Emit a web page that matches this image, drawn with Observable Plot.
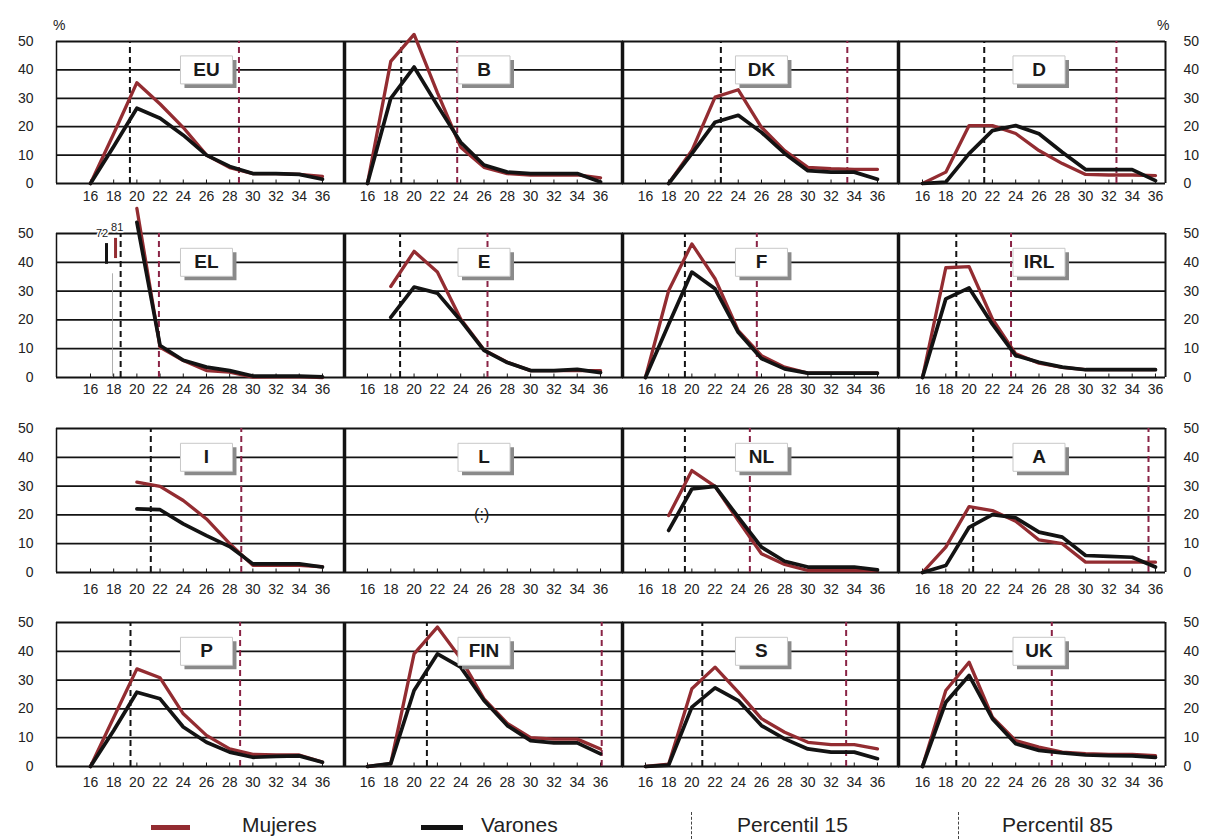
<!DOCTYPE html>
<html><head><meta charset="utf-8">
<script src="https://cdn.jsdelivr.net/npm/d3@7"></script>
<script src="https://cdn.jsdelivr.net/npm/@observablehq/plot@0.6"></script>
<style>
body{margin:0;background:#fff;font-family:"Liberation Sans",Arial,sans-serif;color:#222;}
#root{position:relative;width:1216px;height:839px;overflow:hidden;background:#fff;}
.panel{position:absolute;}
.panel svg{max-width:none !important;}
.txt{position:absolute;white-space:nowrap;font-family:"Liberation Sans",Arial,sans-serif;color:#222;}
</style></head><body><div id="root"></div>
<script>
// ---- data ----
const ages = [16,18,20,22,24,26,28,30,32,34,36];
const countries = ["EU","B","DK","D","EL","E","F","IRL","I","L","NL","A","P","FIN","S","UK"];
const mujEU  = [0,17.5,35.5,28,19.7,10,5.6,3.5,3.5,3.2,2.5];
const varEU  = [0,13,26.5,23,17,10,6,3.5,3.5,3.2,1.5];
const mujB   = [0,43,52.5,32,12.8,5.7,3.5,3,3,3,2];
const varB   = [0,30,41,27.5,14.5,6.5,4,3.5,3.5,3.5,0.5];
const mujDK  = [null,0,11.6,30.4,33,19.8,11.6,5.7,5.2,5,5];
const varDK  = [null,0,10.5,21.6,24,18,10.6,4.5,4,4,1.5];
const mujD   = [0,4,20.4,20.4,17.6,11.6,7,3.2,3,3,2.8];
const varD   = [0,0.5,10.5,18.6,20.4,17.5,11,4.9,4.9,4.9,1];
const mujEL  = [null,null,58.7,10.5,5.9,2.4,1.9,0.1,0.2,0.3,0];
const varEL  = [null,null,53.9,11.1,6,3.6,2.4,0.5,0.5,0.5,0.2];
const mujE   = [null,31.6,43.8,36.6,20.3,9.6,5.3,2.4,2.4,2.4,2.4];
const varE   = [null,20.9,31.4,29.3,19.8,9.4,5.2,2.4,2.4,2.8,1.7];
const mujF   = [0,30.2,46.4,34.3,16.3,7.6,3.6,1.5,1.5,1.5,1.5];
const varF   = [0,18.5,36.6,30.8,15.7,6.6,3,1.5,1.5,1.5,1.5];
const mujIRL = [0,38.1,38.5,20.3,8.2,5,3.5,2.7,2.7,2.7,2.7];
const varIRL = [0,27.3,31.1,18.5,7.6,5.3,3.6,2.7,2.7,2.7,2.7];
const mujI   = [null,null,31.4,29.9,25,18.6,10,2.5,2.5,2.5,2];
const varI   = [null,null,22.1,21.8,16.9,12.8,9,3,3,3,1.9];
const mujL   = [null,null,null,null,null,null,null,null,null,null,null];
const varL   = [null,null,null,null,null,null,null,null,null,null,null];
const mujNL  = [null,19.8,35.4,29.9,18,6.5,2.8,0.7,0.7,0.7,0.7];
const varNL  = [null,14.6,29,29.9,19.2,8.8,3.9,1.9,1.9,1.9,0.9];
const mujA   = [0,8.8,22.9,21.5,17.8,11.3,10,3.6,3.6,3.6,3.6];
const varA   = [0,2.4,15.7,20.1,19,14,12.3,5.9,5.6,5.3,1.9];
const mujP   = [0,17,33.9,30.8,18.3,10.8,6.1,4.2,4,4,1.5];
const varP   = [0,12.5,25.8,23.5,13.7,8.4,5,3.2,3.5,3.7,1.5];
const mujFIN = [0,1,39.1,48.4,37.5,23.5,15,10,9.5,9.5,6.1];
const varFIN = [0,1,26.4,39.1,34.5,22.9,14.2,9,8.2,8.2,4.4];
const mujS   = [0,0.8,27,34.5,25.8,16.6,11.9,8.4,7.6,7.6,6.1];
const varS   = [0,0.5,20.6,27.3,22.9,14.2,9.6,6.1,5,5,2.7];
const mujUK  = [0,26.4,36.2,17.1,9,6.7,5,4.5,4.2,4.2,3.8];
const varUK  = [0,22.3,31.6,16.6,7.9,5.6,4.7,4,3.8,3.7,3.2];
const p15 = [19.4,18.9,22.5,21.3, 18.6,18.8,19.4,18.9, 21.2,null,19.4,20.35, 19.45,21.1,20.9,18.9];
const p85 = [28.8,23.7,33.4,32.65, 21.9,26.3,25.6,23.6, 29.0,null,25.0,35.4, 28.9,36.1,33.3,27.1];
const yTicks = [0,10,20,30,40,50];
const elOffscaleSeries = ["Varones","Mujeres"];
const elOffscaleValues = [72,81];
const noData = "(:)";
const legendLabels = ["Mujeres","Varones","Percentil 15","Percentil 85"];

const mujAll = [mujEU,mujB,mujDK,mujD,mujEL,mujE,mujF,mujIRL,mujI,mujL,mujNL,mujA,mujP,mujFIN,mujS,mujUK];
const varAll = [varEU,varB,varDK,varD,varEL,varE,varF,varIRL,varI,varL,varNL,varA,varP,varFIN,varS,varUK];

// ---- layout ----
const root = document.getElementById("root");
const colLeft = [56,344,622,898], colRight = [344,623,899,1165];
const colDomain = [[13.07,37.9],[14.03,37.97],[14.02,37.9],[13.94,36.86]];
const rowTop = [41,233,428,622], rowBottom = [183,377,572,766];
const rowPad = [8,7,12,11];
const RED = "#932c31", P85C = "#8a2446", INK = "#131313";
const FONT = "Liberation Sans, Arial, sans-serif";
const boxSymbol = {draw(ctx){ctx.moveTo(-26,-14);ctx.lineTo(26,-14);ctx.lineTo(26,14);ctx.lineTo(-26,14);ctx.closePath();}};
const tickSymbol = {draw(ctx){ctx.moveTo(0,0);ctx.lineTo(0,-4);}};

countries.forEach((country, i) => {
  const r = Math.floor(i/4), c = i%4;
  const mL = c===0 ? 60 : 12, mR = c===3 ? 50 : 12, mT = 34, mB = 34;
  const w = colRight[c]-colLeft[c], h = rowBottom[r]-rowTop[r];
  const rows = ages.map((a,k)=>({age:a, Mujeres: mujAll[i][k], Varones: varAll[i][k]}));
  const dom = colDomain[c];
  const marks = [
    Plot.ruleY([10,20,30,40,50], {stroke: INK, strokeWidth: 1.8}),
    Plot.ruleY([0], {stroke: INK, strokeWidth: 2}),
    Plot.dot(ages, {x: d=>d, y: 0, symbol: tickSymbol, stroke: INK, strokeWidth: 1, fill: "none"}),
    Plot.ruleX([dom[0]], {y1: 0, y2: 50, stroke: INK, strokeWidth: c===0 ? 1.5 : 3.5}),
    Plot.axisX({ticks: ages, tickSize: 0, tickPadding: rowPad[r], fontSize: 14, label: null, tickFormat: d=>String(d), fill: "#222"})
  ];
  if (c===3) marks.push(Plot.ruleX([dom[1]], {y1: 0, y2: 50, stroke: INK, strokeWidth: 2}));
  if (c===0) marks.push(Plot.axisY({anchor: "left", ticks: yTicks, tickSize: 0, tickPadding: 23, fontSize: 14, label: null, fill: "#222"}));
  if (c===3) marks.push(Plot.axisY({anchor: "right", ticks: yTicks, tickSize: 0, tickPadding: 18, fontSize: 14, label: null, fill: "#222"}));
  if (country === "EL") {
    const off = elOffscaleSeries.map((s,k)=>({series: s, value: elOffscaleValues[k]}));
    marks.push(Plot.ruleX([17.9], {y1: 0, y2: 36, stroke: "#999", strokeWidth: 0.8}));
    marks.push(Plot.ruleX(off, {x: d=> d.series==="Varones" ? 17.38 : 18.16,
      y1: d=> d.series==="Varones" ? 39.3 : 41.3, y2: d=> d.series==="Varones" ? 46.5 : 48.3,
      stroke: d=> d.series==="Varones" ? INK : RED, strokeWidth: 3}));
    marks.push(Plot.text(off, {x: d=> d.series==="Varones" ? 17.0 : 18.3, y: d=> d.series==="Varones" ? 50 : 52,
      text: d=> String(d.value), fontSize: 11, fill: "#222", stroke: "white", strokeWidth: 3, paintOrder: "stroke"}));
  }
  if (p15[i] != null) marks.push(Plot.ruleX([p15[i]], {y1: 0, y2: 50, stroke: INK, strokeWidth: 2, strokeDasharray: "6,4"}));
  if (p85[i] != null) marks.push(Plot.ruleX([p85[i]], {y1: 0, y2: 50, stroke: P85C, strokeWidth: 2, strokeDasharray: "6,4"}));
  marks.push(Plot.line(rows, {x: "age", y: "Mujeres", stroke: RED, strokeWidth: 3.3, strokeLinejoin: "round"}));
  marks.push(Plot.line(rows, {x: "age", y: "Varones", stroke: INK, strokeWidth: 3.7, strokeLinejoin: "round"}));
  if (country === "L") marks.push(Plot.text([noData], {x: 25.8, y: 20, text: d=>d, fontSize: 16, fill: "#222"}));
  marks.push(Plot.dot([country], {x: 26, y: 40, symbol: boxSymbol, fill: "#8a8a8a", stroke: "none", dx: 4, dy: 4, r: 5}));
  marks.push(Plot.dot([country], {x: 26, y: 40, symbol: boxSymbol, fill: "white", stroke: "#c8c8c8", strokeWidth: 1, r: 5}));
  marks.push(Plot.text([country], {x: 26, y: 40, text: d=>d, fontSize: 19, fontWeight: "bold", fill: "#1a1a1a"}));

  const W = w + mL + mR, H = h + mT + mB;
  const chart = Plot.plot({
    width: W, height: H,
    marginLeft: mL, marginRight: mR, marginTop: mT, marginBottom: mB,
    x: {domain: dom, axis: null, label: null},
    y: {domain: [0,50], axis: null, label: null},
    style: {background: "transparent", overflow: "visible", fontFamily: FONT, maxWidth: "none"},
    marks
  });
  const div = document.createElement("div");
  div.className = "panel";
  div.style.left = (colLeft[c]-mL) + "px";
  div.style.top = (rowTop[r]-mT) + "px";
  div.style.width = W + "px";
  div.style.height = H + "px";
  div.appendChild(chart);
  root.appendChild(div);
});

// percent signs
function addText(t, x, y, size, extra) {
  const s = document.createElement("div");
  s.className = "txt"; s.textContent = t;
  s.style.left = x + "px"; s.style.top = y + "px"; s.style.fontSize = size + "px";
  if (extra) Object.assign(s.style, extra);
  root.appendChild(s); return s;
}
addText("%", 53, 17, 14);
addText("%", 1157, 17, 14);

// legend
function addLine(x, y, w, h, color) {
  const d = document.createElement("div");
  Object.assign(d.style, {position: "absolute", left: x+"px", top: y+"px", width: w+"px", height: h+"px", background: color});
  root.appendChild(d);
}
function addDash(x, y1, y2) {
  const d = document.createElement("div");
  Object.assign(d.style, {position: "absolute", left: x+"px", top: y1+"px", width: "0px", height: (y2-y1)+"px", borderLeft: "1px dashed #444"});
  root.appendChild(d);
}
addLine(151, 825, 39, 5, RED);
addText(legendLabels[0], 242, 813, 21);
addLine(421, 825, 42, 5, INK);
addText(legendLabels[1], 481, 813, 21);
addDash(691, 812, 839);
addText(legendLabels[2], 737, 813, 21);
addDash(958, 812, 839);
addText(legendLabels[3], 1002, 813, 21);
</script>
</body></html>
